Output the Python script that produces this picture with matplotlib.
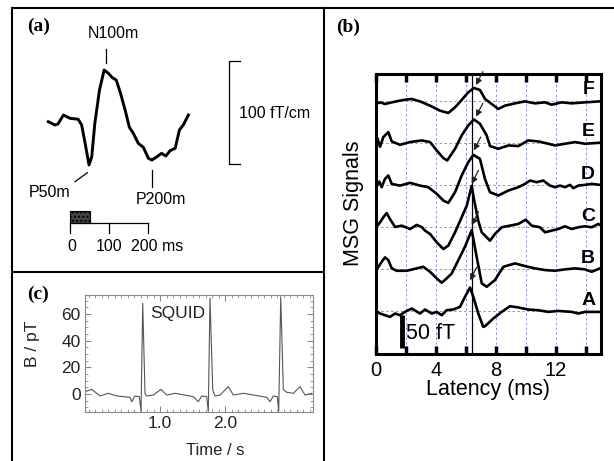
import matplotlib
matplotlib.use("Agg")
import numpy as np
import matplotlib.pyplot as plt
from matplotlib.lines import Line2D
from matplotlib.patches import Rectangle
from matplotlib.ticker import MultipleLocator

plt.rcParams["font.family"] = ["Liberation Sans", "DejaVu Sans"]

# ---- (a) averaged evoked field, gradiometer (ms, fT/cm) ----
aef_time_ms = [-56, -39, -31, -17, 0, 21, 30, 39, 49, 56, 64, 76, 88, 99, 108, 119,
               129, 142, 153, 163, 176, 189, 202, 211, 224, 236, 247, 258, 271, 282,
               292, 305]
aef_field = [-0.7, -3.9, -2.9, 5.8, 2.6, 1.7, -3.9, -21.7, -42.7, -34.7, -2.2, 30.1,
             49.5, 46.3, 42.4, 39.8, 28.4, 10.7, -6.1, -11.9, -21.7, -25.5, -36.2,
             -37.9, -34.7, -31.4, -34.0, -28.8, -26.5, -8.7, -3.9, 5.8]
time_bar_ticks = [0, 100, 200]
time_bar_labels = ["0", "100", "200 ms"]
stimulus_ms = 51.5

# ---- (b) MSG signals, channels A..F (latency ms, fT) ----
channel_names = ["A", "B", "C", "D", "E", "F"]
channel_offset = [0, 60, 120, 180, 240, 300]

lat_a = [0.1, 0.27, 0.6, 0.93, 1.27, 1.6, 1.93, 2.38, 2.93, 3.27, 3.71, 4.05, 4.38,
         4.71, 5.15, 5.6, 5.93, 6.27, 6.49, 6.82, 7.15, 7.27, 7.82, 8.38, 8.93, 9.49,
         10.15, 10.82, 11.49, 12.15, 13.05, 13.49, 13.93, 14.93]
msg_a = [-1.0, -3.3, -5.7, -8.1, -3.3, -5.7, -1.0, 3.8, -3.3, 2.4, -3.3, -1.0, -5.7,
         1.4, 2.4, 6.2, 20.4, 33.7, 20.4, -3.3, -22.3, -21.4, -10.4, -1.0, 7.1, 5.3,
         2.4, 1.4, -1.0, 0.4, -1.0, -3.3, -1.0, -1.0]

lat_b = [0.1, 0.38, 0.6, 0.82, 1.05, 1.38, 2.05, 2.71, 3.15, 3.6, 4.05, 4.38, 4.71,
         5.05, 5.49, 5.93, 6.38, 6.71, 7.05, 7.38, 7.93, 8.49, 9.27, 9.93, 10.6,
         11.27, 11.93, 12.6, 13.27, 13.93, 14.38, 14.93]
msg_b = [1.0, 10.4, 16.7, 12.8, 1.0, -2.4, -2.4, 1.0, 3.3, -3.8, -13.3, -19.5, -13.3,
         -6.2, 12.8, 31.8, 55.6, 17.6, -20.4, -25.2, -15.7, 3.3, 8.1, 4.3, 1.0, -1.4,
         -2.4, -0.4, 1.0, -0.4, -3.8, 1.0]

lat_c = [0.1, 0.27, 0.49, 0.71, 0.93, 1.27, 1.71, 2.27, 2.71, 3.05, 3.27, 3.6, 4.05,
         4.49, 4.82, 5.27, 5.71, 6.05, 6.38, 6.53, 6.82, 7.05, 7.6, 7.93, 8.38, 8.93,
         9.49, 9.98, 10.38, 10.93, 11.27, 11.71, 12.15, 12.6, 13.05, 13.49, 13.93,
         14.38, 14.82, 14.93]
msg_c = [1.9, 6.7, 13.8, 19.9, 11.4, 0.0, 1.9, -2.9, 2.9, 0.0, -5.2, -9.9, -21.8,
         -31.4, -26.6, -7.6, 13.8, 30.4, 58.4, 39.9, 8.6, -7.6, -19.5, -10.0, -0.4,
         1.9, 4.3, 10.4, 1.9, -0.4, -7.6, -5.2, -2.9, 1.0, -2.9, -0.4, 1.0, -0.4,
         4.3, 2.9]

lat_d = [0.1, 0.22, 0.38, 0.6, 0.82, 1.05, 1.6, 2.27, 2.93, 3.49, 4.05, 4.49, 4.82,
         5.27, 5.71, 6.15, 6.49, 6.93, 7.27, 7.6, 8.15, 8.82, 9.49, 9.93, 10.27, 10.71,
         11.15, 11.6, 11.93, 12.27, 12.6, 12.93, 13.15, 13.49, 13.93, 14.38, 14.93]
msg_d = [0.0, 4.7, -3.3, 8.6, 13.3, 1.4, -1.0, 2.9, -1.0, -3.3, -12.8, -22.3, -25.7,
         -10.4, 13.3, 32.3, 42.8, 37.1, 8.0, -10.4, -15.2, -8.1, -3.3, 1.4, 6.2, 3.8,
         6.2, -1.0, -3.3, -1.0, -3.3, 0.0, -4.7, -1.0, 0.0, 1.4, 0.0]

lat_e = [0.1, 0.27, 0.49, 0.82, 1.05, 1.6, 2.27, 3.05, 3.6, 4.05, 4.49, 4.75, 5.27,
         5.71, 6.15, 6.53, 6.93, 7.38, 7.6, 8.15, 8.82, 9.49, 10.15, 10.82, 11.49,
         11.93, 12.6, 13.27, 13.93, 14.93]
msg_e = [5.7, -5.7, 8.1, 15.2, 1.9, -2.9, 1.0, 3.3, 1.0, -11.0, -21.8, -25.2, -8.6,
         10.4, 24.7, 33.2, 27.1, 10.4, -4.7, -8.6, -3.8, -4.7, 3.3, 1.9, -1.4, -3.8,
         -1.4, 1.0, -1.4, 0.0]

lat_f = [0.1, 0.27, 0.6, 1.05, 1.82, 2.38, 2.93, 3.6, 4.27, 4.82, 5.27, 5.71, 6.15,
         6.53, 6.93, 7.27, 7.71, 8.15, 8.6, 9.27, 9.93, 10.6, 11.27, 11.71, 12.38,
         13.05, 13.93, 14.93]
msg_f = [-3.8, -2.4, -4.7, -2.4, 1.0, 2.4, -1.0, -7.1, -14.3, -17.5, -9.5, 1.0, 11.8,
         18.1, 15.2, 2.4, -4.7, -11.8, -7.1, -3.8, -1.0, -3.8, -2.4, -5.7, -2.4, -3.8,
         -2.4, -1.0]

channel_latency = [lat_a, lat_b, lat_c, lat_d, lat_e, lat_f]
channel_signal = [msg_a, msg_b, msg_c, msg_d, msg_e, msg_f]
peak_marker_ms = 6.38
arrow_tip_latency = [6.27, 6.38, 6.38, 6.53, 6.67, 6.67]
arrow_tip_level = [43.9, 122.6, 181.6, 229.1, 277.2, 322.3]
latency_ticks = [0, 2, 4, 6, 8, 10, 12, 14]
latency_labels = ["0", "", "4", "", "8", "", "12", ""]

# ---- (c) SQUID cardiogram (s, pT) ----
squid_time = [-0.154, -0.051, 0.077, 0.205, 0.334, 0.538, 0.565, 0.615, 0.682, 0.708,
              0.734, 0.769, 0.795, 0.897, 1.015, 1.103, 1.231, 1.512, 1.589, 1.642,
              1.718, 1.743, 1.769, 1.811, 1.846, 1.923, 2.051, 2.128, 2.282, 2.642,
              2.692, 2.743, 2.805, 2.826, 2.857, 2.897, 2.949, 3.051, 3.154, 3.231,
              3.334]
squid_field = [1.7, 3.5, -1.5, 0.5, -1.5, -2.5, -5.8, -1.5, -2.0, -13.0, 68.0, 0.5,
               -1.5, -0.8, 3.5, -0.8, 0.5, -2.0, -5.8, -1.5, -2.0, -13.0, 72.0, 3.0,
               -1.5, -0.8, 5.5, -0.8, 0.5, -2.5, -5.8, -1.5, -2.0, -13.0, 73.0, 3.5,
               1.3, 0.5, 5.5, -0.8, 0.5]
squid_xticks = [1.0, 2.0]
squid_yticks = [0, 20, 40, 60]

W, H = 614, 461


def fx(px):
    return px / W


def fy(py):
    return 1 - py / H


fig = plt.figure(figsize=(6.14, 4.61), dpi=100)

# panel frames
for xs, ys in [([12, 614], [8, 8]), ([12, 12], [8, 461]),
               ([324, 324], [8, 461]), ([12, 324], [272, 272])]:
    fig.add_artist(Line2D([fx(x) for x in xs], [fy(y) for y in ys],
                          color="black", lw=1.5))

serif = dict(family=["Liberation Serif", "DejaVu Serif"], weight="bold", fontsize=14,
             ha="center", va="center")
fig.text(fx(39), fy(26), "(a)", **serif)
fig.text(fx(348), fy(27), "(b)", **serif)
fig.text(fx(38), fy(294), "(c)", **serif)

# ---------------- (a) ----------------
ax_a = fig.add_axes([fx(12), fy(272), fx(324) - fx(12), fy(8) - fy(272)])
ax_a.set_xlim(-149.5, 654.6)
ax_a.set_ylim(-146.6, 109.7)
ax_a.axis("off")
ax_a.plot(aef_time_ms, aef_field, color="black", lw=2.1, solid_joinstyle="round")

fs_a = 11.5
ax_a.text(111, 85.4, "N100m", ha="center", va="center", fontsize=fs_a)
ax_a.plot([93, 93], [56.3, 69.9], color="black", lw=0.9)
ax_a.text(-51.5, -69.9, "P50m", ha="center", va="center", fontsize=fs_a)
ax_a.plot([12.9, 44.6], [-58.9, -50.2], color="black", lw=0.9)
ax_a.text(233.7, -76, "P200m", ha="center", va="center", fontsize=fs_a)
ax_a.plot([210.6, 210.6], [-47.6, -63.8], color="black", lw=0.9)

ax_a.plot([438, 410.6, 410.6, 438], [58.3, 58.3, -41.7, -41.7], color="black", lw=0.9)
ax_a.text(436, 7.5, "100 fT/cm", ha="left", va="center", fontsize=fs_a)

ax_a.plot([time_bar_ticks[0], time_bar_ticks[-1]], [-99.3, -99.3], color="black", lw=0.9)
for t in time_bar_ticks:
    ax_a.plot([t, t], [-99.3, -109], color="black", lw=0.9)
ax_a.add_patch(Rectangle((0, -99.3), stimulus_ms, 12.2, facecolor="#444444",
                         edgecolor="black", hatch="....", lw=0.8))
ax_a.text(5, -122, time_bar_labels[0], ha="center", va="center", fontsize=fs_a)
ax_a.text(100, -122, time_bar_labels[1], ha="center", va="center", fontsize=fs_a)
ax_a.text(158, -122, time_bar_labels[2], ha="left", va="center", fontsize=fs_a)

# ---------------- (b) ----------------
ax_b = fig.add_axes([fx(376), fy(354), fx(601) - fx(376), fy(74) - fy(354)])
ax_b.set_xlim(0, 15)
ax_b.set_ylim(-61, 338)
ax_b.set_xticks(latency_ticks)
ax_b.set_xticklabels(latency_labels)
ax_b.set_yticks(channel_offset)
ax_b.grid(True, color="#8696dc", lw=0.7, ls=(0, (2.5, 2.5)))
ax_b.set_axisbelow(True)
ax_b.tick_params(axis="x", direction="in", length=6, width=2.5, top=True,
                 labelsize=14.5, pad=5)
ax_b.tick_params(axis="y", length=0, labelleft=False)
for sp in ax_b.spines.values():
    sp.set_linewidth(2.2)

for lat, sig, off, name in zip(channel_latency, channel_signal, channel_offset,
                               channel_names):
    ax_b.plot(lat, np.array(sig) + off, color="black", lw=1.9, solid_joinstyle="round")
    ax_b.text(14.15, off + 15.5, name, ha="center", va="center", fontsize=14,
              fontweight="bold")

ax_b.axvline(peak_marker_ms, color="black", lw=0.9)
for tx, ty in zip(arrow_tip_latency, arrow_tip_level):
    ax_b.annotate("", xy=(tx, ty), xytext=(tx + 0.45, ty + 19),
                  arrowprops=dict(arrowstyle="-|>", color="#222222", lw=0.9,
                                  mutation_scale=9, shrinkA=0, shrinkB=0),
                  annotation_clip=False)

ax_b.plot([1.71, 1.71], [-52.9, -5.4], color="black", lw=3.5, solid_capstyle="butt")
ax_b.text(2.0, -31.5, "50 fT", ha="left", va="center", fontsize=15.5)

fig.text(fx(354), fy(203), "MSG Signals", rotation=90, ha="center", va="center",
         fontsize=15.5)
fig.text(fx(488), fy(389), "Latency (ms)", ha="center", va="center", fontsize=15.5)

# ---------------- (c) ----------------
ax_c = fig.add_axes([fx(85), fy(411.7), fx(313.3) - fx(85), fy(295) - fy(411.7)])
ax_c.plot(squid_time, squid_field, color="#555555", lw=0.8)
ax_c.set_xlim(-0.154, 3.358)
ax_c.set_ylim(-13.3, 74.3)
ax_c.set_xticks(squid_xticks)
ax_c.set_xticklabels(["1.0", "2.0"])
ax_c.set_yticks(squid_yticks)
ax_c.xaxis.set_minor_locator(MultipleLocator(0.1))
ax_c.yaxis.set_minor_locator(MultipleLocator(5))
ax_c.tick_params(which="both", direction="in", top=True, right=True, color="#888888",
                 labelsize=12.5, pad=3, labelcolor="#222222")
ax_c.tick_params(which="major", length=4)
ax_c.tick_params(which="minor", length=2)
for sp in ax_c.spines.values():
    sp.set_color("#888888")
    sp.set_linewidth(0.8)
ax_c.text(1.266, 60.5, "SQUID", ha="center", va="center", fontsize=12.5,
          color="#222222")
fig.text(fx(33), fy(344), "B / pT", rotation=90, ha="center", va="center",
         fontsize=12.5, color="#222222")
fig.text(fx(215), fy(450), "Time / s", ha="center", va="center", fontsize=12,
         color="#222222")

fig.savefig("out.png", dpi=100)
plt.close(fig)
